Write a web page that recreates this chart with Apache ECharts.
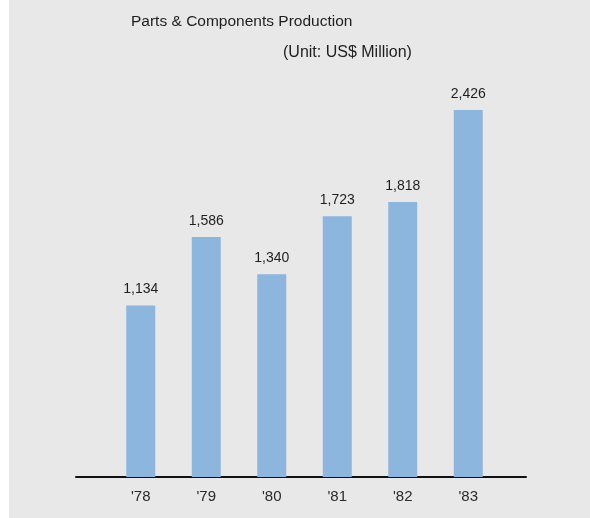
<!DOCTYPE html>
<html>
<head>
<meta charset="utf-8">
<script src="https://cdn.jsdelivr.net/npm/echarts@6/dist/echarts.min.js"></script>
<style>
  html, body { margin: 0; padding: 0; background: #ffffff; }
  #chart { width: 590px; height: 518px; }
</style>
</head>
<body>
<div id="chart"></div>
<script>
// Parts & components production, US$ million
const years = ["'78", "'79", "'80", "'81", "'82", "'83"];
const production = [1134, 1586, 1340, 1723, 1818, 2426];

const textFont = 'Liberation Sans, Arial, sans-serif';

const chart = echarts.init(document.getElementById('chart'), null, { renderer: 'canvas' });

chart.setOption({
  backgroundColor: '#e8e8e8',
  animation: false,
  title: [
    {
      text: 'Parts & Components Production',
      left: 126, top: 9,
      textStyle: { fontFamily: textFont, fontSize: 15.5, fontWeight: 'normal', color: '#1e1e1e' }
    },
    {
      text: '(Unit: US$ Million)',
      left: 278, top: 40,
      textStyle: { fontFamily: textFont, fontSize: 16, fontWeight: 'normal', color: '#1e1e1e' }
    }
  ],
  graphic: [
    { type: 'rect', left: 0, top: 0, shape: { width: 9, height: 518 }, style: { fill: '#ffffff' }, silent: true }
  ],
  grid: [
    // bars
    { left: 108, right: 89, top: 83.6, bottom: 41 },
    // full-width baseline
    { left: 76, right: 64, top: 83.6, bottom: 41 }
  ],
  xAxis: [
    {
      gridIndex: 0,
      type: 'category',
      data: years,
      boundaryGap: true,
      axisLine: { show: false },
      axisTick: { show: false },
      axisLabel: { fontFamily: textFont, fontSize: 15, color: '#2a2a2a', margin: 12 }
    },
    {
      gridIndex: 1,
      type: 'value',
      min: 0, max: 1,
      axisLine: { show: true, lineStyle: { color: '#111111', width: 2 } },
      axisTick: { show: false },
      axisLabel: { show: false },
      splitLine: { show: false }
    }
  ],
  yAxis: [
    {
      gridIndex: 0,
      type: 'value',
      min: 0, max: 2600,
      show: false,
      splitLine: { show: false }
    },
    {
      gridIndex: 1,
      type: 'value',
      min: 0, max: 1,
      show: false,
      splitLine: { show: false }
    }
  ],
  series: [
    {
      type: 'bar',
      xAxisIndex: 0,
      yAxisIndex: 0,
      data: production,
      barWidth: 29,
      itemStyle: { color: '#8db6de' },
      label: {
        show: true,
        position: 'top',
        distance: 9,
        fontFamily: textFont,
        fontSize: 14,
        color: '#1e1e1e',
        formatter: p => p.value.toLocaleString('en-US')
      },
      z: 1
    }
  ]
});
</script>
</body>
</html>
